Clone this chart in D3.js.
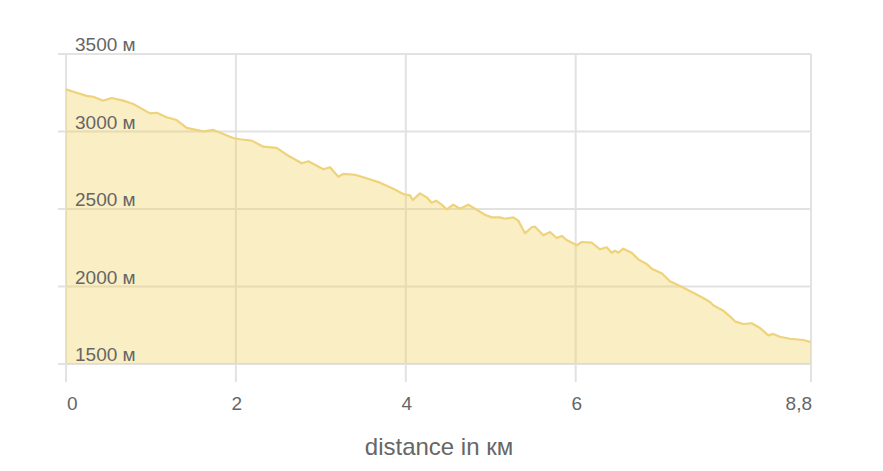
<!DOCTYPE html>
<html><head><meta charset="utf-8">
<script src="https://cdn.jsdelivr.net/npm/d3@7"></script>
<style>body{margin:0;background:#fff;font-family:"Liberation Sans",Arial,sans-serif;}</style>
</head><body><svg id="c" width="883" height="471"></svg>
<script>
const distanceKm = [0,0.126,0.244,0.321,0.439,0.538,0.675,0.792,0.989,1.068,1.185,1.303,1.421,1.616,1.734,1.852,1.969,2.048,2.186,2.323,2.480,2.598,2.775,2.852,3.029,3.108,3.205,3.264,3.402,3.500,3.696,3.853,3.971,4.049,4.081,4.167,4.246,4.305,4.356,4.423,4.481,4.559,4.638,4.736,4.854,4.932,5.011,5.109,5.168,5.265,5.324,5.403,5.482,5.521,5.619,5.698,5.776,5.835,5.894,6.012,6.071,6.188,6.286,6.365,6.424,6.463,6.502,6.560,6.659,6.737,6.836,6.895,7.012,7.110,7.228,7.384,7.502,7.581,7.620,7.737,7.855,7.875,7.973,8.072,8.170,8.267,8.326,8.405,8.523,8.679,8.766];
const elevationM = [3272,3250,3230,3224,3199,3216,3199,3177,3117,3121,3092,3074,3023,3001,3010,2984,2958,2950,2941,2902,2894,2850,2795,2808,2756,2769,2708,2726,2721,2705,2670,2631,2597,2588,2558,2601,2575,2541,2554,2528,2498,2528,2502,2528,2489,2463,2446,2446,2437,2446,2425,2343,2382,2386,2330,2352,2313,2326,2300,2266,2287,2283,2240,2253,2218,2231,2218,2244,2218,2175,2145,2115,2085,2034,2003,1960,1926,1900,1879,1844,1788,1775,1758,1763,1732,1685,1694,1676,1663,1655,1642];
const xTicks = [0,2,4,6,8.77];
const xTickLabels = ["0","2","4","6","8,8"];
const yTicks = [1500,2000,2500,3000,3500];
const yTickLabels = ["1500 м","2000 м","2500 м","3000 м","3500 м"];
const xTitle = "distance in км";

const data = distanceKm.map((d,i)=>({d, e: elevationM[i]}));
const svg = d3.select("#c");
const x = d3.scaleLinear().domain([0, 8.77]).range([66, 811]);
const y = d3.scaleLinear().domain([1500, 3500]).range([364, 54]);

// horizontal grid
svg.append("g").selectAll("line").data(yTicks).join("line")
  .attr("x1", 58).attr("x2", 811)
  .attr("y1", d=>y(d)).attr("y2", d=>y(d))
  .attr("stroke", "#e2e2e2").attr("stroke-width", 2);
// vertical grid
svg.append("g").selectAll("line").data(xTicks).join("line")
  .attr("x1", d=>x(d)).attr("x2", d=>x(d))
  .attr("y1", 54).attr("y2", 382)
  .attr("stroke", "#e2e2e2").attr("stroke-width", 2);

// area
const area = d3.area().x(d=>x(d.d)).y0(y(1500)).y1(d=>y(d.e));
svg.append("path").datum(data).attr("d", area)
  .attr("fill", "rgba(240,205,90,0.35)");
const line = d3.line().x(d=>x(d.d)).y(d=>y(d.e));
svg.append("path").datum(data).attr("d", line)
  .attr("fill", "none").attr("stroke", "#eed37a").attr("stroke-width", 2.2)
  .attr("stroke-linejoin", "round");

// y labels
svg.append("g").selectAll("text").data(yTicks).join("text")
  .attr("x", 75).attr("y", d=>y(d)-3)
  .attr("font-size", 19).attr("fill", "#666")
  .text((d,i)=>yTickLabels[i]);

// x labels
svg.append("g").selectAll("text").data(xTicks).join("text")
  .attr("x", (d,i)=> i===0 ? x(d)+1 : x(d)+1)
  .attr("y", 410)
  .attr("text-anchor", (d,i)=> i===0 ? "start" : (i===xTicks.length-1 ? "end" : "middle"))
  .attr("font-size", 19).attr("fill", "#666")
  .text((d,i)=>xTickLabels[i]);

svg.append("text").attr("x", 439).attr("y", 455)
  .attr("text-anchor", "middle").attr("font-size", 24).attr("fill", "#666")
  .text(xTitle);
</script></body></html>
